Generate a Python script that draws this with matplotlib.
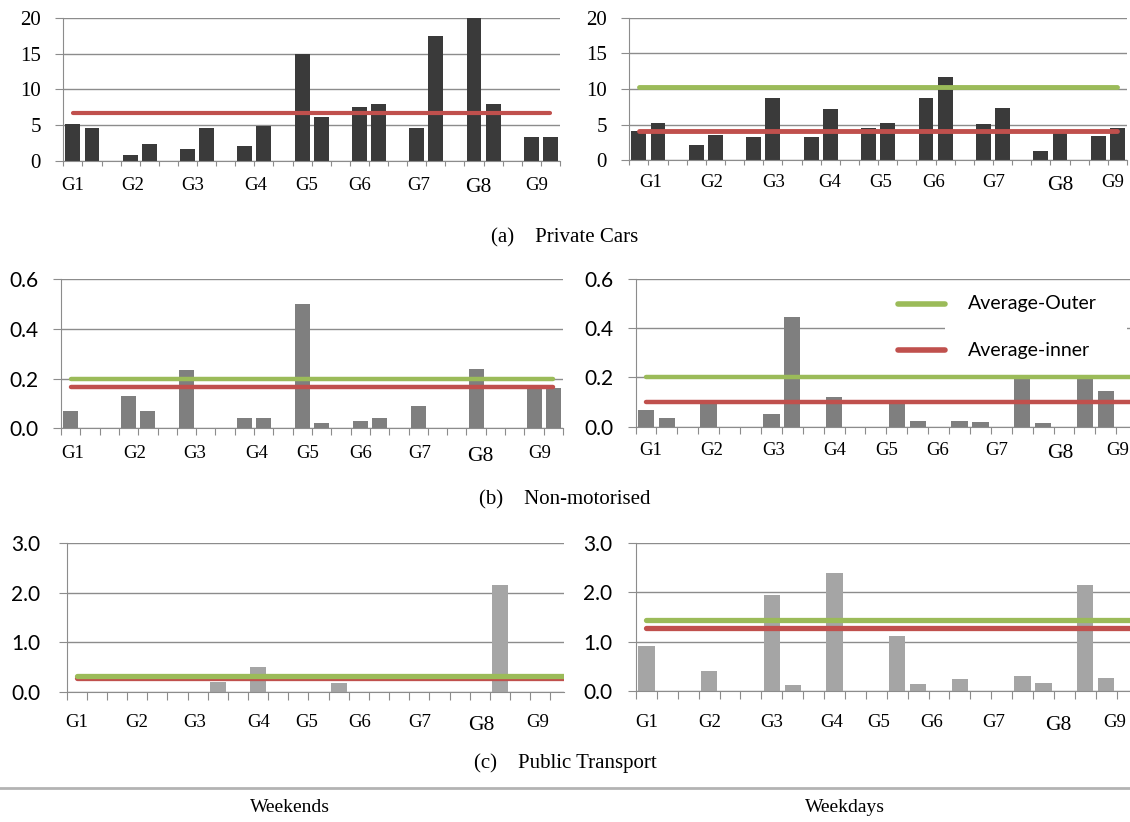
import numpy as np
import matplotlib
matplotlib.use("Agg")
import matplotlib.pyplot as plt
from matplotlib.patches import Rectangle

# 26 category slots per panel: pairs for G1..G9 with an empty slot between groups
groups = ["G1", "G2", "G3", "G4", "G5", "G6", "G7", "G8", "G9"]

cars_weekend = [5.2, 4.6, 0, 0.9, 2.4, 0, 1.7, 4.6, 0, 2.1, 4.9, 0, 15.0, 6.2, 0,
                7.6, 8.0, 0, 4.6, 17.5, 0, 20.0, 8.0, 0, 3.4, 3.4]
cars_weekday = [4.1, 5.3, 0, 2.1, 3.5, 0, 3.3, 8.8, 0, 3.3, 7.2, 0, 4.5, 5.3, 0,
                8.8, 11.7, 0, 5.1, 7.4, 0, 1.3, 3.9, 0, 3.4, 4.6]
nonmot_weekend = [0.07, 0, 0, 0.13, 0.07, 0, 0.235, 0, 0, 0.04, 0.04, 0, 0.50, 0.02, 0,
                  0.028, 0.04, 0, 0.09, 0, 0, 0.24, 0, 0, 0.16, 0.16]
nonmot_weekday = [0.066, 0.037, 0, 0.10, 0, 0, 0.05, 0.445, 0, 0.12, 0, 0, 0.10, 0.024, 0,
                  0.022, 0.019, 0, 0.20, 0.015, 0, 0.20, 0.146, 0, 0, 0]
pt_weekend = [0, 0, 0, 0, 0, 0, 0, 0.2, 0, 0.5, 0, 0, 0, 0.19, 0,
              0, 0, 0, 0, 0, 0, 2.15, 0, 0, 0, 0]
pt_weekday = [0.9, 0, 0, 0.4, 0, 0, 1.95, 0.11, 0, 2.4, 0, 0, 1.11, 0.14, 0,
              0.24, 0, 0, 0.30, 0.16, 0, 2.15, 0.26, 0, 0, 0]

# averages (outer, inner)
cars_weekend_avg = (None, 6.7)
cars_weekday_avg = (10.3, 4.1)
nonmot_weekend_avg = (0.2, 0.165)
nonmot_weekday_avg = (0.2, 0.1)
pt_weekend_avg = (0.33, 0.28)
pt_weekday_avg = (1.43, 1.28)

GREEN = "#9bbb59"
RED = "#c0504d"
GRID = "#8c8c8c"

W, H = 1130, 822
fig = plt.figure(figsize=(W / 100, H / 100), dpi=100)


def add_ax(left, right, top, bottom):
    return fig.add_axes([left / W, 1 - bottom / H, (right - left) / W, (bottom - top) / H])


def panel(ax, vals, color, yticks, fmt, xmax, avg, font, fsize, pad, tlen, lw):
    x = np.arange(len(vals))
    ax.set_xlim(-0.5, xmax)
    ax.set_ylim(0, yticks[-1])
    ax.set_yticks(yticks)
    ax.set_yticklabels([fmt % t for t in yticks], fontfamily=font, fontsize=fsize)
    ax.yaxis.grid(True, color=GRID, lw=1)
    ax.set_axisbelow(True)
    ax.bar(x, vals, width=0.78, color=color, zorder=2)
    outer, inner = avg
    if inner is not None:
        ax.plot([0, len(vals) - 1], [inner, inner], color=RED, lw=lw,
                solid_capstyle="round", zorder=3)
    if outer is not None:
        ax.plot([0, len(vals) - 1], [outer, outer], color=GREEN, lw=lw,
                solid_capstyle="round", zorder=3)
    ax.set_xticks(np.arange(-0.5, xmax + 0.01, 1.0))
    ax.set_xticklabels([])
    for s in ["top", "right"]:
        ax.spines[s].set_visible(False)
    for s in ["left", "bottom"]:
        ax.spines[s].set_color(GRID)
    ax.tick_params(axis="y", length=6, color=GRID, pad=pad)
    ax.tick_params(axis="x", length=tlen, color=GRID)


def group_labels(xs, y, g8_drop=3):
    for g, xp in zip(groups, xs):
        big = g == "G8"
        fig.text(xp / W, 1 - (y + (g8_drop if big else 0)) / H, g,
                 family="Liberation Serif", fontsize=15.5 if big else 13.5,
                 ha="center", va="center")


# (a) private cars
ax = add_ax(63.3, 560, 17.7, 161.3)
panel(ax, cars_weekend, "#3a3a3a", [0, 5, 10, 15, 20], "%d", 25.5,
      cars_weekend_avg, "Liberation Serif", 15, 10, 3.5, 3)
ax = add_ax(629.3, 1127, 17.7, 160.3)
panel(ax, cars_weekday, "#3a3a3a", [0, 5, 10, 15, 20], "%d", 25.5,
      cars_weekday_avg, "Liberation Serif", 15, 10, 3.5, 3.5)
group_labels([73, 133, 193, 256, 307, 360, 419, 478, 537], 185)
group_labels([651, 712, 774, 830, 881, 934, 994, 1060, 1113], 182)

# (b) non-motorised
yt = [0.0, 0.2, 0.4, 0.6]
ax = add_ax(61, 563, 279, 428.3)
panel(ax, nonmot_weekend, "#7f7f7f", yt, "%.1f", 25.5,
      nonmot_weekend_avg, "Lato", 15, 10, 5, 3.2)
ax = add_ax(635.5, 1130, 279, 426.7)
panel(ax, nonmot_weekday, "#7f7f7f", yt, "%.1f", 23.16,
      nonmot_weekday_avg, "Lato", 15, 10, 5, 3.2)
# legend drawn in figure coordinates on a white box over the grid
ax.add_patch(Rectangle((945 / W, 1 - 366 / H), 182 / W, 76 / H, transform=fig.transFigure,
                       facecolor="white", edgecolor="none", zorder=2.5))
for yy, c, lab in [(304, GREEN, "Average-Outer"), (350, RED, "Average-inner")]:
    ax.plot([898 / W, 945 / W], [1 - yy / H, 1 - yy / H], transform=fig.transFigure,
            color=c, lw=4, solid_capstyle="round", zorder=4, clip_on=False)
    fig.text(968 / W, 1 - yy / H, lab, family="Lato", fontsize=14, va="center", ha="left")
group_labels([73, 135, 195, 257, 308, 361, 420, 480, 540], 453)
group_labels([651, 712, 774, 835, 887, 938, 997, 1060, 1118], 450)

# (c) public transport
yt = [0.0, 1.0, 2.0, 3.0]
ax = add_ax(66.7, 564, 543.3, 692)
panel(ax, pt_weekend, "#a5a5a5", yt, "%.1f", 24.18,
      pt_weekend_avg, "Lato", 15, 13, 6, 3.8)
ax = add_ax(635.9, 1130, 543.3, 690.7)
panel(ax, pt_weekday, "#a5a5a5", yt, "%.1f", 23.14,
      pt_weekday_avg, "Lato", 15, 11, 6, 3.8)
group_labels([77, 137, 195, 259, 307, 360, 420, 481, 538], 722)
group_labels([647, 710, 772, 832, 879, 932, 994, 1058, 1115], 722)

# captions
for y, txt in [(238, "(a)    Private Cars"), (500, "(b)    Non-motorised"),
               (763, "(c)    Public Transport")]:
    fig.text(0.5, 1 - y / H, txt, family="Liberation Serif", fontsize=15,
             ha="center", va="center")

fig.add_artist(plt.Line2D([0, 1], [1 - 788 / H, 1 - 788 / H], color="#b3b3b3", lw=2))
fig.text(290 / W, 1 - 807 / H, "Weekends", family="Liberation Serif", fontsize=14,
         ha="center", va="center")
fig.text(845 / W, 1 - 807 / H, "Weekdays", family="Liberation Serif", fontsize=14,
         ha="center", va="center")

fig.savefig("out.png", dpi=100, facecolor="white")
